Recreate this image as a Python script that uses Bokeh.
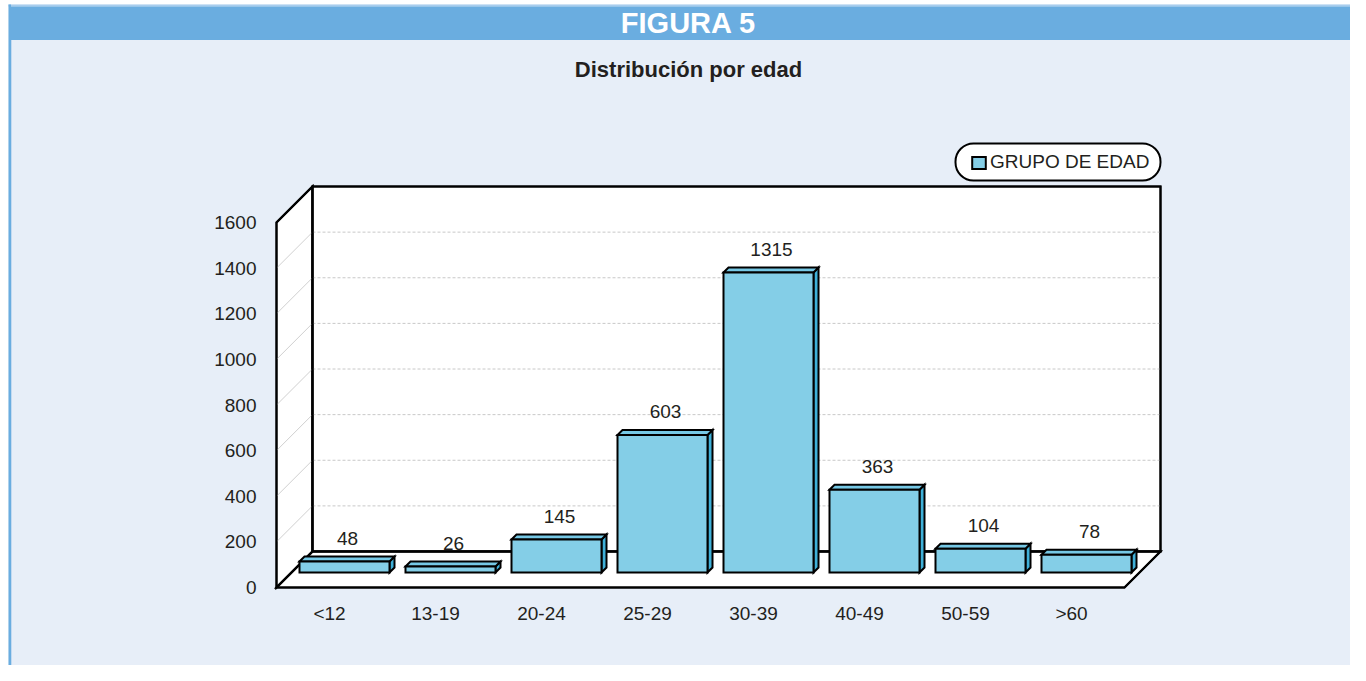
from bokeh.plotting import figure
from bokeh.models import Range1d, ColumnDataSource, Legend, LegendItem, BoxAnnotation
from bokeh.core.properties import value
from bokeh.embed import file_html
from bokeh.resources import INLINE

# ---------------- data ----------------
categories = ["<12", "13-19", "20-24", "25-29", "30-39", "40-49", "50-59", ">60"]
counts = [48, 26, 145, 603, 1315, 363, 104, 78]
y_ticks = [0, 200, 400, 600, 800, 1000, 1200, 1400, 1600]
series_name = "GRUPO DE EDAD"
chart_title = "Distribución por edad"
figure_label = "FIGURA 5"

# ---------------- layout (reference pixels) ----------------
W, H = 1350, 665
CAT_PX = 106.0      # width of one category slot on the front plane
X0_PX = 329.0       # centre of first category on the front plane
FLOOR_PX = 587.0    # y of value 0 on the front plane
TOP_PX = 222.0      # y of top tick on the front plane
y_max = y_ticks[-1]
K = (FLOOR_PX - TOP_PX) / y_max

def X(px):
    return (px - X0_PX) / CAT_PX

def Y(py):
    return (FLOOR_PX - py) / K

def DX(px):
    return px / CAT_PX

def DY(px):
    return px / K

FONT = "Liberation Sans"
BG = "#e7eef8"
HEAD = "#6aade0"
BAR = "#84cee7"
BAR_TOP = "#76c8e5"
BAR_SIDE = "#3fb0d8"
TXT = "#231f20"

p = figure(width=W, height=H, output_backend="svg", toolbar_location=None,
           x_range=Range1d(X(0), X(W)),
           y_range=Range1d(Y(H), Y(0)),
           x_axis_location=None, y_axis_location=None,
           min_border=0, outline_line_color=None,
           background_fill_color="white", border_fill_color="white")
p.grid.visible = False

# ---------- page frame: panel, header band and left rule ----------
p.quad(left=X(8), right=X(W), top=Y(4), bottom=Y(H),
       fill_color=BG, line_color=None)
p.quad(left=X(8), right=X(W), top=Y(4), bottom=Y(6),
       fill_color="#a8cdee", line_color=None)
p.quad(left=X(10), right=X(W), top=Y(6), bottom=Y(39.5),
       fill_color=HEAD, line_color=None)
p.quad(left=X(8), right=X(10.5), top=Y(4), bottom=Y(H),
       fill_color=HEAD, line_color=None)
p.quad(left=X(10.5), right=X(11.5), top=Y(39.5), bottom=Y(H),
       fill_color="#c3daf1", line_color=None)
p.text(x=[X(688)], y=[Y(22)], text=[figure_label], text_font=value(FONT),
       text_font_style="bold", text_font_size="29px", text_color="white",
       text_align="center", text_baseline="middle")
p.text(x=[X(688)], y=[Y(69)], text=[chart_title], text_font=value(FONT),
       text_font_style="bold", text_font_size="22px", text_color=TXT,
       text_align="center", text_baseline="middle")

# ---------- 3D box: walls & floor ----------
n = len(categories)
dx, dy = DX(36), DY(36)
xl, xr = -0.5, n - 0.5
walls_xs = [
    [xl, xl + dx, xl + dx, xl],                 # left wall
    [xl + dx, xr + dx, xr + dx, xl + dx],       # back wall
    [xl, xr, xr + dx, xl + dx],                 # floor
]
walls_ys = [
    [0, dy, dy + y_max, y_max],
    [dy, dy, dy + y_max, dy + y_max],
    [0, 0, dy, dy],
]
p.patches(xs=walls_xs, ys=walls_ys, fill_color="white", line_color="black",
          line_width=2, line_join="miter")

grid_vals = y_ticks[1:-1]
p.segment(x0=[xl + dx] * len(grid_vals), x1=[xr + dx] * len(grid_vals),
          y0=[v + dy for v in grid_vals], y1=[v + dy for v in grid_vals],
          line_color="#c8c8c8", line_width=1, line_dash="3 2")
p.segment(x0=[xl] * len(grid_vals), x1=[xl + dx] * len(grid_vals),
          y0=grid_vals, y1=[v + dy for v in grid_vals],
          line_color="#d0d0d0", line_width=1)
# redraw wall outlines over grid ends
p.patches(xs=walls_xs, ys=walls_ys, fill_color=None, line_color="black",
          line_width=2, line_join="miter")

# ---------- bars ----------
off_x, off_y = DX(15), DY(15)
half = DX(45)
bdx, bdy = DX(5), DY(5)
lefts = [i + off_x - half for i in range(n)]
rights = [i + off_x + half for i in range(n)]
bottoms = [off_y] * n
tops = [off_y + v for v in counts]

side_xs = [[r, r + bdx, r + bdx, r] for r in rights]
side_ys = [[b, b + bdy, t + bdy, t] for b, t in zip(bottoms, tops)]
top_xs = [[l, l + bdx, r + bdx, r] for l, r in zip(lefts, rights)]
top_ys = [[t, t + bdy, t + bdy, t] for t in tops]
p.patches(xs=side_xs, ys=side_ys, fill_color=BAR_SIDE, line_color="black",
          line_width=2, line_join="miter")
p.patches(xs=top_xs, ys=top_ys, fill_color=BAR_TOP, line_color="black",
          line_width=2, line_join="miter")
src = ColumnDataSource(dict(left=lefts, right=rights, bottom=bottoms, top=tops,
                            cat=categories, count=counts))
front = p.quad(left="left", right="right", bottom="bottom", top="top", source=src,
               fill_color=BAR, line_color="black", line_width=2, line_join="miter")

# value labels
p.text(x=[i + DX(18) for i in range(n)], y=[t + DY(23) for t in tops],
       text=[str(v) for v in counts], text_font=value(FONT), text_font_size="19px",
       text_color=TXT, text_align="center", text_baseline="middle")

# ---------- axis labels ----------
p.text(x=[X(256)] * len(y_ticks), y=y_ticks, text=[str(t) for t in y_ticks],
       text_font=value(FONT), text_font_size="19px", text_color=TXT,
       text_align="right", text_baseline="middle")
p.text(x=list(range(n)), y=[Y(613)] * n, text=categories,
       text_font=value(FONT), text_font_size="19px", text_color=TXT,
       text_align="center", text_baseline="middle")

# ---------- legend ----------
box = BoxAnnotation(left=X(955), right=X(1160), top=Y(143), bottom=Y(180),
                    fill_color="white", fill_alpha=1, line_color="black",
                    line_alpha=1, line_width=2, border_radius=18,
                    level="annotation")
p.add_layout(box)
legend = Legend(items=[LegendItem(label=series_name, renderers=[front])],
                location=(970, 492), padding=0, margin=0, spacing=0,
                glyph_width=17, glyph_height=15, label_standoff=3,
                label_text_font=FONT, label_text_font_size="19px",
                label_text_color=TXT,
                border_line_alpha=0, background_fill_alpha=0)
p.add_layout(legend, "center")

open("out.html", "w").write(file_html(p, INLINE))
